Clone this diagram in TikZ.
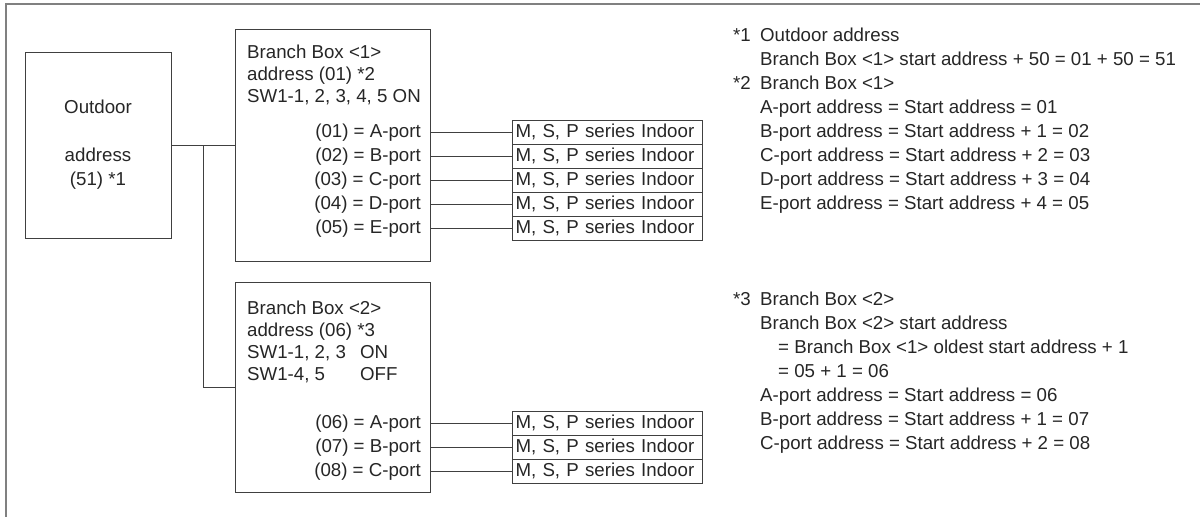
\documentclass[tikz,border=0pt]{standalone}
\usepackage{fontspec}
\setmainfont{Liberation Sans}
\begin{document}
\begin{tikzpicture}[
    x=1pt,y=-1pt,
    every node/.style={font=\fontsize{18.7}{24}\selectfont,text=black!85,inner sep=0pt},
    box/.style={draw=black!75,line width=1pt},
    head/.style={anchor=north west,align=left,font=\fontsize{18.7}{22}\selectfont},
    unit/.style={box,anchor=west,minimum height=24pt,text width=184pt,inner xsep=3pt,align=left},
    line/.style={draw=black!75,line width=1pt}
]
\useasboundingbox (0,0) rectangle (1200,517);
\draw[black!50,line width=1.5pt] (1200,4) -- (6,4) -- (6,517);

\node[box,minimum width=146pt,minimum height=186pt,align=center] (od) at (98,145) {Outdoor\\[24pt]address\\(51) *1};
\node[box,minimum width=195pt,minimum height=232pt] (bb1) at (332.5,145) {};
\node[box,minimum width=195pt,minimum height=210pt] (bb2) at (332.5,387) {};

\node[head] (hd1) at (247,45) {Branch Box <1>\\address (01) *2\\SW1-1, 2, 3, 4, 5 ON};
\node[head] (hd2) at (247,301) {Branch Box <2>\\address (06) *3\\\makebox[113pt][l]{SW1-1, 2, 3}ON\\\makebox[113pt][l]{SW1-4, 5}OFF};

\foreach \n/\p [count=\i] in {01/A,02/B,03/C,04/D,05/E}{
  \node[anchor=east] (p1\i) at (421,109+24*\i) {(\n) = \p-port};
  \node[unit] (in1\i) at (512,108+24*\i) {M, S, P series Indoor};
  \draw[line] (bb1.east |- in1\i.west) -- (in1\i.west);
}
\foreach \n/\p [count=\i] in {06/A,07/B,08/C}{
  \node[anchor=east] (p2\i) at (421,400+24*\i) {(\n) = \p-port};
  \node[unit] (in2\i) at (512,399+24*\i) {M, S, P series Indoor};
  \draw[line] (bb2.east |- in2\i.west) -- (in2\i.west);
}

\coordinate (jn) at (203,145);
\draw[line] (od.east) -- (bb1.west);
\draw[line] (jn) |- (bb2.west);

% notes
\node[anchor=north west,align=left] (nt1) at (733,28) {\makebox[27pt][l]{*1}Outdoor address\\
  \hspace*{27pt}Branch Box <1> start address + 50 = 01 + 50 = 51\\
  \makebox[27pt][l]{*2}Branch Box <1>\\
  \hspace*{27pt}A-port address = Start address = 01\\
  \hspace*{27pt}B-port address = Start address + 1 = 02\\
  \hspace*{27pt}C-port address = Start address + 2 = 03\\
  \hspace*{27pt}D-port address = Start address + 3 = 04\\
  \hspace*{27pt}E-port address = Start address + 4 = 05};
\node[anchor=north west,align=left] (nt2) at (733,292) {\makebox[27pt][l]{*3}Branch Box <2>\\
  \hspace*{27pt}Branch Box <2> start address\\
  \hspace*{45pt}= Branch Box <1> oldest start address + 1\\
  \hspace*{45pt}= 05 + 1 = 06\\
  \hspace*{27pt}A-port address = Start address = 06\\
  \hspace*{27pt}B-port address = Start address + 1 = 07\\
  \hspace*{27pt}C-port address = Start address + 2 = 08};
\end{tikzpicture}
\end{document}
